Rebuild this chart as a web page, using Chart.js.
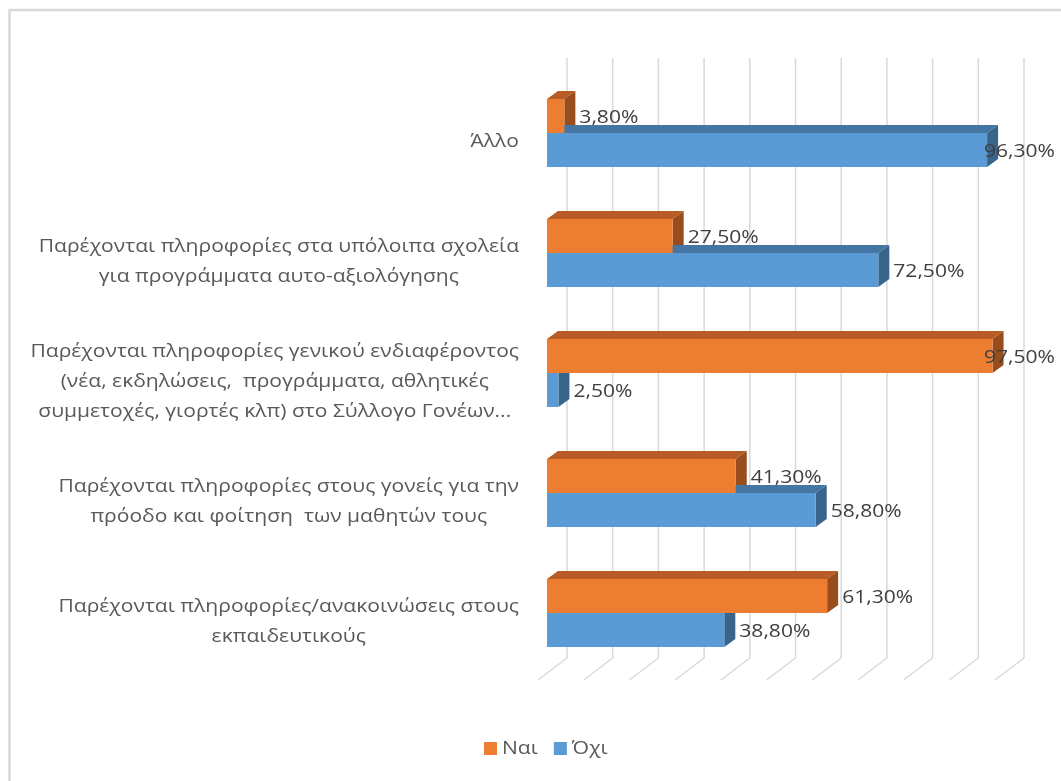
<!DOCTYPE html>
<html lang="el">
<head>
<meta charset="utf-8">
<title>Ενημέρωση</title>
<script src="https://cdn.jsdelivr.net/npm/chart.js@4.4.1/dist/chart.umd.min.js"></script>
<style>
  html, body { margin: 0; padding: 0; background: #ffffff; }
  #wrap { width: 1061px; height: 781px; position: relative; }
</style>
</head>
<body>
<div id="wrap"><canvas id="infoChart" width="1061" height="781"></canvas></div>
<script>
// Categories from top to bottom (each entry is one wrapped label)
const categories = [
  ["Άλλο"],
  ["Παρέχονται πληροφορίες στα υπόλοιπα σχολεία", "για προγράμματα αυτο-αξιολόγησης"],
  ["Παρέχονται πληροφορίες γενικού ενδιαφέροντος", "(νέα, εκδηλώσεις,  προγράμματα, αθλητικές", "συμμετοχές, γιορτές κλπ) στο Σύλλογο Γονέων..."],
  ["Παρέχονται πληροφορίες στους γονείς για την", "πρόοδο και φοίτηση  των μαθητών τους"],
  ["Παρέχονται πληροφορίες/ανακοινώσεις στους", "εκπαιδευτικούς"],
];
const naiValues = [3.8, 27.5, 97.5, 41.3, 61.3];
const oxiValues = [96.3, 72.5, 2.5, 58.8, 38.8];
const gridTicks = [0, 10, 20, 30, 40, 50, 60, 70, 80, 90, 100];

const FONT = '"Open Sans", "Noto Sans", sans-serif';
const TEXT_SX = 1.17; // text is drawn a bit wide
const DEPTH_X = 11;
const DEPTH_Y = -8;

const shades = {
  "#ED7D31": { top: "#B65C24", side: "#9A4D1C" },
  "#5B9BD5": { top: "#4576A3", side: "#39648C" },
};

function fmt(v) {
  return v.toFixed(2).replace(".", ",") + "%";
}

function textWidth(ctx, text) {
  return ctx.measureText(text).width * TEXT_SX;
}

// draws text stretched horizontally, x is the left edge
function wideText(ctx, text, x, y) {
  ctx.save();
  ctx.translate(x, y);
  ctx.scale(TEXT_SX, 1);
  ctx.textAlign = "left";
  ctx.fillText(text, 0, 0);
  ctx.restore();
}

// Back wall grid, floor lines and the depth faces of the bars
const depthPlugin = {
  id: "depth",
  beforeDatasetsDraw(chart) {
    const ctx = chart.ctx;
    const area = chart.chartArea;
    const xs = chart.scales.x;

    ctx.save();
    ctx.strokeStyle = "#d9d9d9";
    ctx.lineWidth = 1.5;
    gridTicks.forEach((t) => {
      const x = xs.getPixelForValue(t) + 20;
      ctx.beginPath();
      ctx.moveTo(x, area.top - 15);
      ctx.lineTo(x, area.bottom - 15);
      ctx.lineTo(x - 29, area.bottom + 7);
      ctx.stroke();
    });

    chart.data.datasets.forEach((ds, di) => {
      const meta = chart.getDatasetMeta(di);
      const sh = shades[ds.backgroundColor];
      meta.data.forEach((bar) => {
        const top = bar.y - bar.height / 2;
        const bottom = bar.y + bar.height / 2;
        const left = bar.base;
        const right = bar.x;

        ctx.fillStyle = sh.top;
        ctx.beginPath();
        ctx.moveTo(left, top);
        ctx.lineTo(right, top);
        ctx.lineTo(right + DEPTH_X, top + DEPTH_Y);
        ctx.lineTo(left + DEPTH_X, top + DEPTH_Y);
        ctx.closePath();
        ctx.fill();

        ctx.fillStyle = sh.side;
        ctx.beginPath();
        ctx.moveTo(right, top);
        ctx.lineTo(right + DEPTH_X, top + DEPTH_Y);
        ctx.lineTo(right + DEPTH_X, bottom + DEPTH_Y);
        ctx.lineTo(right, bottom);
        ctx.closePath();
        ctx.fill();
      });
    });
    ctx.restore();
  },

  afterDatasetsDraw(chart) {
    const ctx = chart.ctx;
    ctx.save();
    ctx.font = "18px " + FONT;
    ctx.fillStyle = "#404040";
    ctx.textBaseline = "middle";
    chart.data.datasets.forEach((ds, di) => {
      const meta = chart.getDatasetMeta(di);
      meta.data.forEach((bar, i) => {
        const text = fmt(ds.data[i]);
        const w = textWidth(ctx, text);
        let x = bar.x + 15;
        if (x + w > 1055) x = 1055 - w;
        wideText(ctx, text, x, bar.y + 2);
      });
    });
    ctx.restore();
  },

  afterDraw(chart) {
    const ctx = chart.ctx;
    const ys = chart.scales.y;
    ctx.save();

    // Category labels, centred lines right-aligned as a block
    ctx.font = "18px " + FONT;
    ctx.fillStyle = "#595959";
    ctx.textBaseline = "middle";
    categories.forEach((lines, i) => {
      const cy = ys.getPixelForValue(i) + 9;
      const maxW = Math.max(...lines.map((l) => textWidth(ctx, l)));
      const cx = 519 - maxW / 2;
      lines.forEach((line, k) => {
        const w = textWidth(ctx, line);
        wideText(ctx, line, cx - w / 2, cy + (k - (lines.length - 1) / 2) * 30);
      });
    });

    // Legend
    const items = chart.data.datasets.map((ds) => ({ label: ds.label, color: ds.backgroundColor }));
    let lx = 484;
    items.forEach((item) => {
      ctx.fillStyle = item.color;
      ctx.fillRect(lx, 742, 13, 13);
      ctx.fillStyle = "#595959";
      wideText(ctx, item.label, lx + 18, 749);
      lx += 18 + textWidth(ctx, item.label) + 16;
    });

    // Outer frame
    ctx.strokeStyle = "#d9d9d9";
    ctx.lineWidth = 2.5;
    ctx.strokeRect(9.5, 10, 1100, 800);
    ctx.restore();
  },
};

document.addEventListener("DOMContentLoaded", function () {
  const ctx = document.getElementById("infoChart").getContext("2d");
  new Chart(ctx, {
    type: "bar",
    data: {
      labels: categories,
      datasets: [
        { label: "Ναι", data: naiValues, backgroundColor: "#ED7D31" },
        { label: "Όχι", data: oxiValues, backgroundColor: "#5B9BD5" },
      ],
    },
    options: {
      indexAxis: "y",
      responsive: false,
      animation: false,
      layout: { padding: { left: 547, right: 57, top: 73, bottom: 108 } },
      datasets: {
        bar: { categoryPercentage: 0.567, barPercentage: 1.0 },
      },
      scales: {
        x: { display: false, min: 0, max: 100 },
        y: { display: false },
      },
      plugins: {
        legend: { display: false },
        tooltip: { enabled: false },
      },
    },
    plugins: [depthPlugin],
  });
});
</script>
</body>
</html>
